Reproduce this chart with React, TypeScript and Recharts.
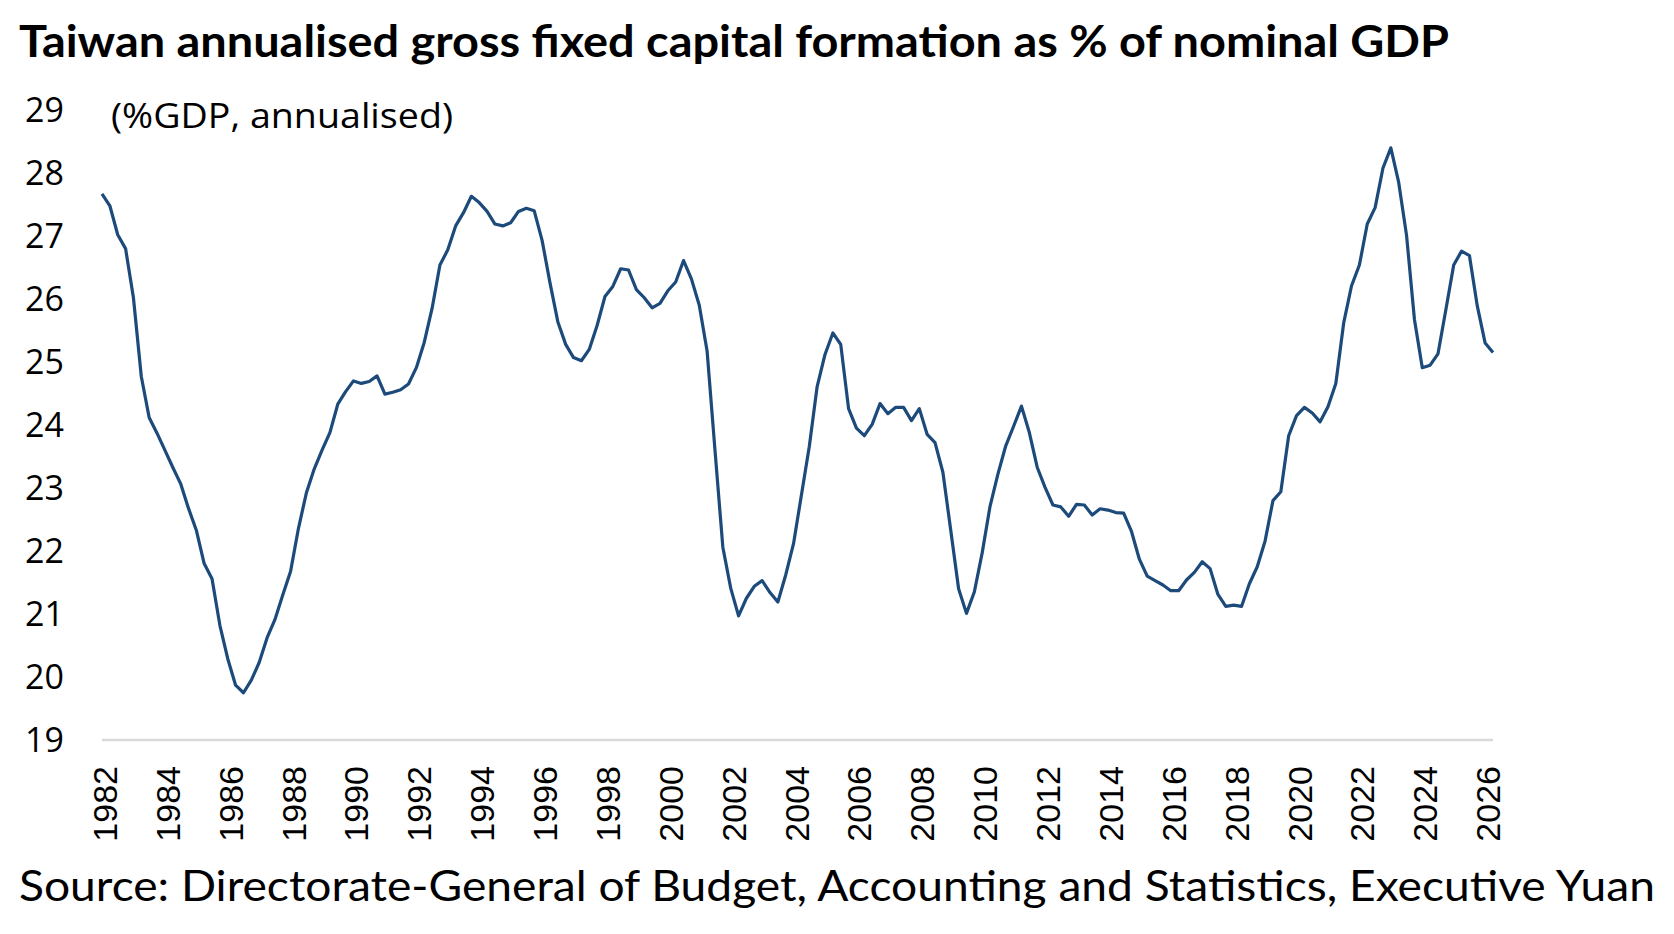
import React from 'react'
import { LineChart, Line, XAxis, YAxis } from 'recharts'

// quarterly, first point is 1982 Q1
const START_YEAR = 1982

const GFCF_SHARE = [
  27.67, 27.48, 27.02, 26.8, 26.02, 24.77, 24.12, 23.87, 23.6, 23.33,
  23.07, 22.68, 22.33, 21.8, 21.56, 20.82, 20.29, 19.87, 19.75, 19.95,
  20.23, 20.62, 20.91, 21.3, 21.68, 22.36, 22.92, 23.3, 23.6, 23.88,
  24.33, 24.53, 24.7, 24.66, 24.69, 24.78, 24.49, 24.52, 24.56, 24.65,
  24.91, 25.31, 25.85, 26.54, 26.78, 27.16, 27.37, 27.63, 27.53, 27.39,
  27.19, 27.16, 27.21, 27.39, 27.44, 27.4, 26.93, 26.26, 25.64, 25.28,
  25.07, 25.02, 25.2, 25.58, 26.04, 26.2, 26.48, 26.46, 26.15, 26.02,
  25.86, 25.93, 26.13, 26.27, 26.61, 26.32, 25.9, 25.17, 23.6, 22.06,
  21.41, 20.97, 21.25, 21.44, 21.53, 21.34, 21.19, 21.62, 22.12, 22.89,
  23.66, 24.61, 25.12, 25.46, 25.28, 24.26, 23.95, 23.83, 24.01, 24.34,
  24.18, 24.28, 24.28, 24.07, 24.26, 23.85, 23.72, 23.25, 22.33, 21.4,
  21.01, 21.35, 21.97, 22.71, 23.22, 23.67, 23.98, 24.3, 23.88, 23.33,
  23.01, 22.73, 22.7, 22.55, 22.74, 22.73, 22.57, 22.67, 22.65, 22.61,
  22.6, 22.31, 21.87, 21.6, 21.53, 21.46, 21.37, 21.37, 21.54, 21.66,
  21.83, 21.72, 21.31, 21.12, 21.14, 21.12, 21.48, 21.75, 22.16, 22.8,
  22.94, 23.83, 24.15, 24.28, 24.19, 24.05, 24.29, 24.66, 25.62, 26.21,
  26.54, 27.19, 27.45, 28.08, 28.4, 27.85, 27.01, 25.68, 24.91, 24.95,
  25.13, 25.83, 26.54, 26.76, 26.69, 25.89, 25.3, 25.15,
]

const Y_TICKS = [19, 20, 21, 22, 23, 24, 25, 26, 27, 28, 29]

const YEAR_LABELS = [
  '1982', '1984', '1986', '1988', '1990', '1992', '1994', '1996', '1998', '2000', '2002', '2004',
  '2006', '2008', '2010', '2012', '2014', '2016', '2018', '2020', '2022', '2024', '2026',
]

const TITLE = 'Taiwan annualised gross fixed capital formation as % of nominal GDP'
const UNIT_NOTE = '(%GDP, annualised)'
const SOURCE = 'Source: Directorate-General of Budget, Accounting and Statistics, Executive Yuan'

const quarters = GFCF_SHARE.map((_, i) => `${START_YEAR + Math.floor(i / 4)} Q${(i % 4) + 1}`)
const data = quarters.map((q, i) => ({ quarter: q, value: GFCF_SHARE[i] }))

const LINE_BLUE = '#1c4a7a'

function YearTick({ x, y, payload }: any) {
  return (
    <text
      x={x + 3}
      y={y}
      transform={`rotate(-90 ${x + 3} ${y})`}
      textAnchor="end"
      dominantBaseline="central"
      fontFamily="'Liberation Sans', Arial, sans-serif"
      fontSize={34}
      fill="#000"
    >
      {String(payload.value).slice(0, 4)}
    </text>
  )
}

export default function App() {
  return (
    <div style={{ position: 'absolute', left: 0, top: 0, width: 1674, height: 934, background: '#fff' }}>
      <LineChart width={1674} height={934} data={data} margin={{ top: 110, right: 181, bottom: 84, left: 0 }}>
        <XAxis
          dataKey="quarter"
          ticks={YEAR_LABELS.map(y => `${y} Q1`)}
          interval={0}
          tick={<YearTick />}
          tickSize={0}
          tickMargin={26}
          tickLine={false}
          axisLine={{ stroke: '#d9d9d9', strokeWidth: 2.5 }}
          height={110}
        />
        <YAxis
          domain={[19, 29]}
          ticks={Y_TICKS}
          interval={0}
          width={102}
          tickSize={0}
          tickMargin={38}
          tickLine={false}
          axisLine={false}
          tick={{ fontFamily: "'Open Sans', sans-serif", fontSize: 34, fill: '#000' }}
        />
        <Line
          type="linear"
          dataKey="value"
          stroke={LINE_BLUE}
          strokeWidth={3.2}
          strokeLinejoin="round"
          dot={false}
          activeDot={false}
          isAnimationActive={false}
        />
      </LineChart>
      <svg width={1674} height={934} style={{ position: 'absolute', left: 0, top: 0, pointerEvents: 'none' }}>
        <text
          x={19}
          y={57}
          fontFamily="Lato, sans-serif"
          fontWeight={700}
          fontSize={44}
          textLength={1430}
          lengthAdjust="spacingAndGlyphs"
          fill="#000"
        >
          {TITLE}
        </text>
        <text
          x={111}
          y={128}
          fontFamily="'Open Sans', sans-serif"
          fontSize={34}
          textLength={342}
          lengthAdjust="spacingAndGlyphs"
          fill="#000"
        >
          {UNIT_NOTE}
        </text>
        <text
          x={19}
          y={901}
          fontFamily="Lato, sans-serif"
          fontSize={43}
          textLength={1636}
          lengthAdjust="spacingAndGlyphs"
          fill="#000"
        >
          {SOURCE}
        </text>
      </svg>
    </div>
  )
}
